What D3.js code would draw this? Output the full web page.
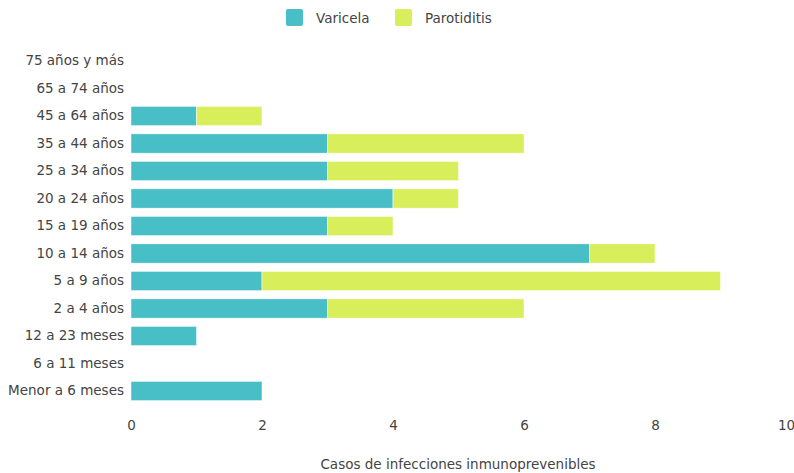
<!DOCTYPE html>
<html>
<head>
<meta charset="utf-8">
<script src="https://cdn.jsdelivr.net/npm/d3@7"></script>
<style>
  html, body { margin: 0; padding: 0; background: #fff; }
  svg { display: block; font-family: "DejaVu Sans", Verdana, sans-serif; }
</style>
</head>
<body>
<svg id="chart" width="794" height="473"></svg>
<script>
// Age groups, top to bottom
const categories = [
  "75 años y más", "65 a 74 años", "45 a 64 años", "35 a 44 años",
  "25 a 34 años", "20 a 24 años", "15 a 19 años", "10 a 14 años",
  "5 a 9 años", "2 a 4 años", "12 a 23 meses", "6 a 11 meses",
  "Menor a 6 meses"
];
const varicela    = [0, 0, 1, 3, 3, 4, 3, 7, 2, 3, 1, 0, 2];
const parotiditis = [0, 0, 1, 3, 2, 1, 1, 1, 7, 3, 0, 0, 0];
const seriesNames = ["Varicela", "Parotiditis"];
const xTicks = [0, 2, 4, 6, 8, 10];
const xTitle = "Casos de infecciones inmunoprevenibles";

const colors = { "Varicela": "#48bec7", "Parotiditis": "#d9ee5b" };
const textColor = "#444";
const fontSize = "13.5px";

const svg = d3.select("#chart");
const margin = { left: 131, right: 8, top: 47.25, bottom: 68.25 };
const W = 794, H = 473;

const x = d3.scaleLinear().domain([0, 10]).range([margin.left, 786]);
const y = d3.scaleBand().domain(categories)
  .range([margin.top, H - margin.bottom]).paddingInner(0.3).paddingOuter(0.15);

const rows = categories.map((c, i) => ({ cat: c, Varicela: varicela[i], Parotiditis: parotiditis[i] }));
const stacked = d3.stack().keys(seriesNames)(rows);

svg.append("g").selectAll("g").data(stacked).join("g")
  .attr("fill", d => colors[d.key])
  .selectAll("rect").data(d => d.filter(s => s[1] - s[0] > 0)).join("rect")
  .attr("x", d => x(d[0]))
  .attr("width", d => x(d[1]) - x(d[0]))
  .attr("y", d => y(d.data.cat))
  .attr("height", y.bandwidth())
  .attr("stroke", "#fff")
  .attr("stroke-width", 0.5);

// Category labels
const yAxis = svg.append("g")
  .attr("transform", `translate(${margin.left},0)`)
  .call(d3.axisLeft(y).tickSize(0).tickPadding(7));
yAxis.select(".domain").remove();
yAxis.selectAll("text").attr("fill", textColor).style("font-size", fontSize)
  .style("font-family", "'DejaVu Sans', Verdana, sans-serif");

// Value axis
const xAxis = svg.append("g")
  .attr("transform", `translate(0,${H - margin.bottom})`)
  .call(d3.axisBottom(x).tickValues(xTicks).tickSize(0).tickPadding(16));
xAxis.select(".domain").remove();
xAxis.selectAll("text").attr("fill", textColor).style("font-size", fontSize)
  .style("font-family", "'DejaVu Sans', Verdana, sans-serif");

svg.append("text")
  .attr("x", 458).attr("y", 469)
  .attr("text-anchor", "middle")
  .attr("fill", textColor)
  .style("font-size", fontSize)
  .text(xTitle);

// Legend
const legendPos = [286, 395];
const legend = svg.append("g").selectAll("g").data(seriesNames).join("g")
  .attr("transform", (d, i) => `translate(${legendPos[i]},9)`);
legend.append("rect")
  .attr("width", 17).attr("height", 17).attr("rx", 2)
  .attr("fill", d => colors[d]);
legend.append("text")
  .attr("x", 30).attr("y", 14)
  .attr("fill", textColor)
  .style("font-size", fontSize)
  .text(d => d);
</script>
</body>
</html>
